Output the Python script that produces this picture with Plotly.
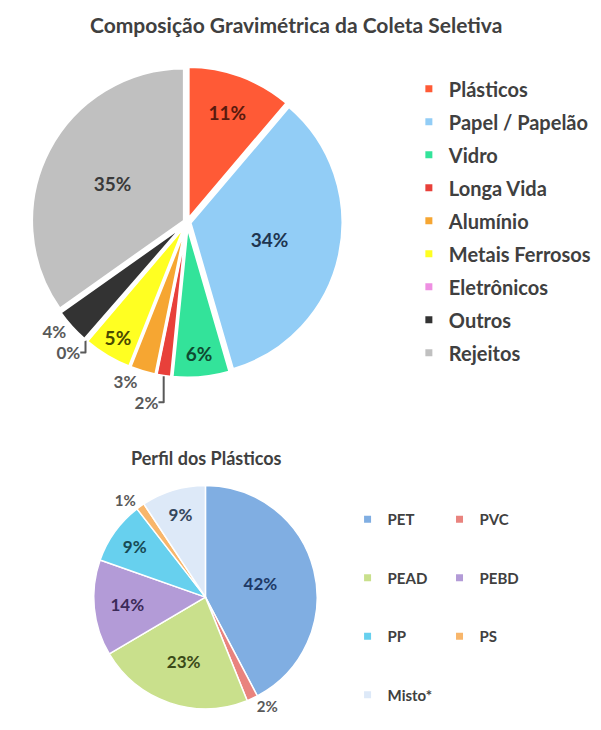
import plotly.graph_objects as go

FONT = "Lato"

# ---- data: chart 1 ----
title1 = "Composição Gravimétrica da Coleta Seletiva"
cats1 = ["Plásticos", "Papel / Papelão", "Vidro", "Longa Vida", "Alumínio",
         "Metais Ferrosos", "Eletrônicos", "Outros", "Rejeitos"]
vals1 = [11.2, 34.3, 6.1, 1.6, 2.8, 5.2, 0.2, 3.8, 34.8]
colors1 = ["#FF5A36", "#92CDF6", "#33E39A", "#E8403A", "#F6A632",
           "#FFFF22", "#EE8FE2", "#333333", "#C0C0C0"]
txtcol1 = ["#5A1A0E", "#1E3550", "#0F4A30", "#595959", "#595959",
           "#4A4A00", "#595959", "#595959", "#3A3A3A"]
pos1 = ["inside", "inside", "inside", "outside", "outside",
        "inside", "outside", "outside", "inside"]

# ---- data: chart 2 ----
title2 = "Perfil dos Plásticos"
cats2 = ["PET", "PVC", "PEAD", "PEBD", "PP", "PS", "Misto*"]
vals2 = [42.3, 1.6, 22.6, 13.9, 9.1, 1.2, 9.3]
colors2 = ["#80AEE2", "#E9837E", "#C9E08C", "#B39BD7", "#67D0EE",
           "#F8B66B", "#DDE9F8"]
txtcol2 = ["#1E3A66", "#595959", "#3A4A18", "#3B2A58", "#174A55",
           "#595959", "#34465E"]
pos2 = ["inside", "outside", "inside", "inside", "inside", "outside", "inside"]
col_of2 = ["legend2", "legend3", "legend2", "legend3", "legend2", "legend3", "legend2"]

fig = go.Figure()

fig.add_trace(go.Pie(
    labels=cats1, values=vals1, sort=False, direction="clockwise", rotation=0,
    marker=dict(colors=colors1, line=dict(color="white", width=3)),
    pull=[0.02] * len(cats1),
    textposition=pos1, texttemplate="%{percent:.0%}",
    insidetextorientation="horizontal",
    insidetextfont=dict(family=FONT, size=19, color=txtcol1),
    outsidetextfont=dict(family=FONT, size=17, color="#595959"),
    domain=dict(x=[0.038, 0.558], y=[0.493, 0.920]),
    showlegend=False, hoverinfo="label+percent",
))

fig.add_trace(go.Pie(
    labels=cats2, values=vals2, sort=False, direction="clockwise", rotation=0,
    marker=dict(colors=colors2, line=dict(color="white", width=1.5)),
    textposition=pos2, texttemplate="%{percent:.0%}",
    insidetextorientation="horizontal",
    insidetextfont=dict(family=FONT, size=17, color=txtcol2),
    outsidetextfont=dict(family=FONT, size=15, color="#595959"),
    domain=dict(x=[0.142, 0.515], y=[0.040, 0.346]),
    showlegend=False, hoverinfo="label+percent",
))

# legend proxies
for c, col in zip(cats1, colors1):
    fig.add_trace(go.Scatter(x=[None], y=[None], mode="markers", name=c,
                             legendgroup=c, legend="legend",
                             marker=dict(symbol="square", size=7, color=col)))
for c, col, lg in zip(cats2, colors2, col_of2):
    fig.add_trace(go.Scatter(x=[None], y=[None], mode="markers", name=c,
                             legendgroup=c, legend=lg,
                             marker=dict(symbol="square", size=7, color=col)))

legfont1 = dict(family=FONT, size=20, color="#404040", weight="bold")
legfont2 = dict(family=FONT, size=15, color="#404040", weight="bold")

fig.update_layout(
    width=601, height=730,
    margin=dict(l=0, r=0, t=0, b=0),
    paper_bgcolor="white", plot_bgcolor="white",
    xaxis=dict(visible=False), yaxis=dict(visible=False),
    font=dict(family=FONT, weight="bold"),
    legend=dict(x=0.667, y=0.916, xanchor="left", yanchor="top",
                traceorder="grouped", tracegroupgap=4, font=legfont1,
                itemwidth=30, bgcolor="rgba(0,0,0,0)"),
    legend2=dict(x=0.565, y=0.322, xanchor="left", yanchor="top",
                 traceorder="grouped", tracegroupgap=36, font=legfont2,
                 itemwidth=30, bgcolor="rgba(0,0,0,0)"),
    legend3=dict(x=0.718, y=0.322, xanchor="left", yanchor="top",
                 traceorder="grouped", tracegroupgap=36, font=legfont2,
                 itemwidth=30, bgcolor="rgba(0,0,0,0)"),
    annotations=[
        dict(text=title1, x=0.479, y=0.977, xref="paper", yref="paper",
             xanchor="center", yanchor="middle", showarrow=False,
             font=dict(family=FONT, size=21, color="#404040", weight="bold")),
        dict(text=title2, x=0.33, y=0.383, xref="paper", yref="paper",
             xanchor="center", yanchor="middle", showarrow=False,
             font=dict(family=FONT, size=18, color="#404040", weight="bold")),
    ],
)

fig.write_html("out.html")
